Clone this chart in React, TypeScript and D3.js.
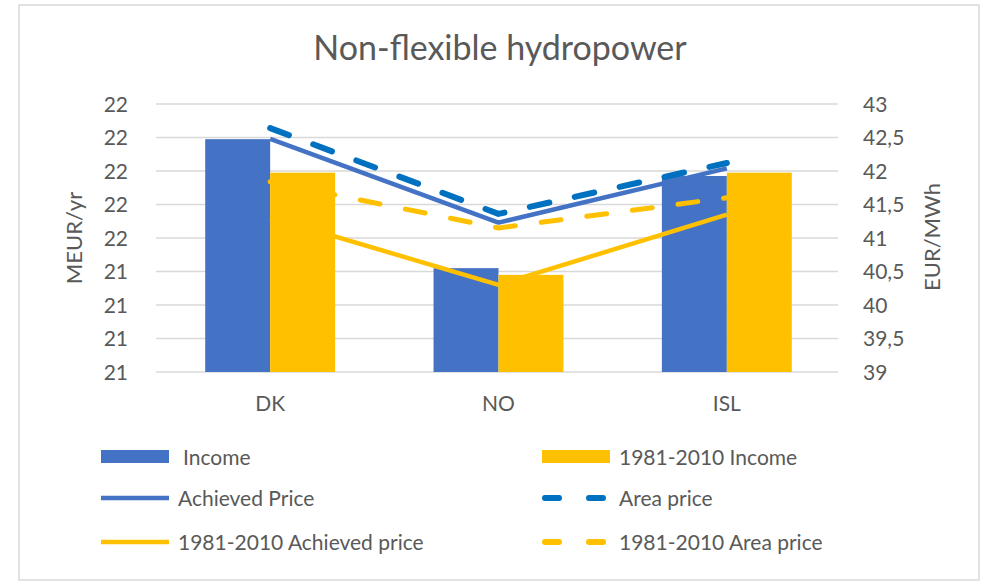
import React, { useEffect, useRef } from 'react';
import * as d3 from 'd3';

const categories = ['DK', 'NO', 'ISL'];
const income = [22.19, 21.42, 21.97];
const income8110 = [21.99, 21.38, 21.99];
const achievedPrice = [42.48, 41.23, 42.04];
const areaPrice = [42.64, 41.36, 42.12];
const achieved8110 = [41.31, 40.3, 41.35];
const area8110 = [41.84, 41.15, 41.6];
const leftTicks = [20.8, 21, 21.2, 21.4, 21.6, 21.8, 22, 22.2, 22.4];
const rightTicks = [39, 39.5, 40, 40.5, 41, 41.5, 42, 42.5, 43];

const BLUE = '#4472C4';
const DARKBLUE = '#0070C0';
const ORANGE = '#FFC000';
const FONT = 'Lato, "Open Sans", sans-serif';
const GREY = '#595959';

const App = () => {
  const svgRef = useRef<SVGSVGElement>(null);

  useEffect(() => {
    const svg = d3.select(svgRef.current);
    svg.selectAll('*').remove();

    // plot area
    const left = 156;
    const right = 841;
    const top = 104;
    const bottom = 372;

    const x = d3.scaleBand().domain(categories).range([left, right]).paddingInner(0.431).paddingOuter(0.2155);
    const xSub = d3.scaleBand().domain(['a', 'b']).range([0, x.bandwidth()]);
    const yL = d3.scaleLinear().domain([20.8, 22.4]).range([bottom, top]);
    const yR = d3.scaleLinear().domain([39, 43]).range([bottom, top]);
    const cx = (c: string) => (x(c) as number) + x.bandwidth() / 2;

    // chart frame
    svg.append('rect')
      .attr('x', 19).attr('y', 5).attr('width', 960).attr('height', 575)
      .attr('fill', 'white').attr('stroke', '#d9d9d9').attr('stroke-width', 1.5);

    // title
    svg.append('text')
      .attr('x', 500).attr('y', 60)
      .attr('text-anchor', 'middle')
      .style('font-family', FONT).style('font-size', '34px').style('fill', GREY)
      .text('Non-flexible hydropower');

    // gridlines
    svg.append('g').selectAll('line').data(leftTicks).enter().append('line')
      .attr('x1', left).attr('x2', 838)
      .attr('y1', (d) => yL(d)).attr('y2', (d) => yL(d))
      .attr('stroke', '#d9d9d9').attr('stroke-width', 1.3);

    // left axis labels
    svg.append('g').selectAll('text').data(leftTicks).enter().append('text')
      .attr('x', 128).attr('y', (d) => yL(d)).attr('dy', '0.36em')
      .attr('text-anchor', 'end')
      .style('font-family', FONT).style('font-size', '21px').style('fill', GREY)
      .text((d) => d3.format('.0f')(d));

    // right axis labels
    svg.append('g').selectAll('text').data(rightTicks).enter().append('text')
      .attr('x', 863).attr('y', (d) => yR(d)).attr('dy', '0.36em')
      .style('font-family', FONT).style('font-size', '21px').style('fill', GREY)
      .text((d) => String(d).replace('.', ','));

    // axis titles
    svg.append('text')
      .attr('transform', 'translate(82,238) rotate(-90)')
      .attr('text-anchor', 'middle')
      .style('font-family', FONT).style('font-size', '22px').style('fill', GREY)
      .text('MEUR/yr');
    svg.append('text')
      .attr('transform', 'translate(940,237) rotate(-90)')
      .attr('text-anchor', 'middle')
      .style('font-family', FONT).style('font-size', '22px').style('fill', GREY)
      .text('EUR/MWh');

    // category labels
    svg.append('g').selectAll('text').data(categories).enter().append('text')
      .attr('x', (d) => cx(d)).attr('y', 403).attr('dy', '0.36em')
      .attr('text-anchor', 'middle')
      .style('font-family', FONT).style('font-size', '21px').style('fill', GREY)
      .text((d) => d);

    // bars
    const barSeries = [
      { key: 'a', values: income, color: BLUE },
      { key: 'b', values: income8110, color: ORANGE },
    ];
    barSeries.forEach((s) => {
      svg.append('g').selectAll('rect').data(categories).enter().append('rect')
        .attr('x', (d) => (x(d) as number) + (xSub(s.key) as number))
        .attr('width', xSub.bandwidth())
        .attr('y', (d, i) => yL(s.values[i]))
        .attr('height', (d, i) => bottom - yL(s.values[i]))
        .attr('fill', s.color);
    });

    // lines
    const lineSeries = [
      { values: achievedPrice, color: BLUE, width: 4.5, dash: null },
      { values: areaPrice, color: DARKBLUE, width: 6, dash: '20 26' },
      { values: achieved8110, color: ORANGE, width: 4.5, dash: null },
      { values: area8110, color: ORANGE, width: 5, dash: '20 26' },
    ];
    const line = d3.line<number>()
      .x((d, i) => cx(categories[i]))
      .y((d) => yR(d));
    lineSeries.forEach((s) => {
      const p = svg.append('path')
        .attr('d', line(s.values))
        .attr('fill', 'none')
        .attr('stroke', s.color)
        .attr('stroke-width', s.width)
        .attr('stroke-linejoin', 'round');
      if (s.dash) p.attr('stroke-dasharray', s.dash).attr('stroke-linecap', 'round');
    });

    // legend
    const legend = [
      { label: 'Income', type: 'rect', color: BLUE, col: 0, row: 0 },
      { label: '1981-2010 Income', type: 'rect', color: ORANGE, col: 1, row: 0 },
      { label: 'Achieved Price', type: 'line', color: BLUE, col: 0, row: 1 },
      { label: 'Area price', type: 'dash', color: DARKBLUE, col: 1, row: 1 },
      { label: '1981-2010 Achieved price', type: 'line', color: ORANGE, col: 0, row: 2 },
      { label: '1981-2010 Area price', type: 'dash', color: ORANGE, col: 1, row: 2 },
    ];
    const rowY = [457, 498, 542];
    const colX = [101, 542];
    legend.forEach((l) => {
      const g = svg.append('g').attr('transform', `translate(${colX[l.col]},${rowY[l.row]})`);
      if (l.type === 'rect') {
        g.append('rect').attr('x', 0).attr('y', -7).attr('width', 68).attr('height', 13).attr('fill', l.color);
      } else {
        const ln = g.append('line').attr('x1', l.type === 'dash' ? 3 : 0).attr('x2', 68).attr('y1', 0).attr('y2', 0)
          .attr('stroke', l.color).attr('stroke-width', l.type === 'dash' ? 6 : 4.5);
        if (l.type === 'dash') ln.attr('stroke-dasharray', '14 30').attr('stroke-linecap', 'round');
      }
      g.append('text')
        .attr('x', l.label === 'Income' ? 82 : 77).attr('y', 0).attr('dy', '0.36em')
        .style('font-family', FONT).style('font-size', '21px').style('fill', GREY)
        .text(l.label);
    });
  }, []);

  return (
    <div style={{ position: 'absolute', left: 0, top: 0 }}>
      <svg ref={svgRef} width={990} height={581}></svg>
    </div>
  );
};

export default App;
